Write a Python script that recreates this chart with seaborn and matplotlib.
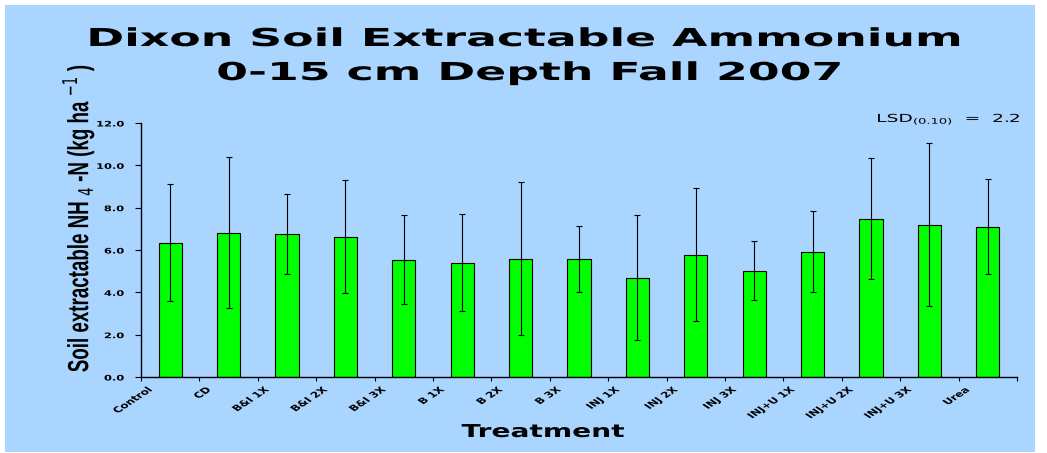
import numpy as np
import pandas as pd
import matplotlib
matplotlib.use("Agg")
import matplotlib.pyplot as plt
import matplotlib.transforms as mtransforms
from matplotlib.patches import Rectangle
from matplotlib.patheffects import AbstractPathEffect
import seaborn as sns

# ---- data -------------------------------------------------------------
treatments = ["Control", "CD", "B&I 1X", "B&I 2X", "B&I 3X", "B 1X", "B 2X",
              "B 3X", "INJ 1X", "INJ 2X", "INJ 3X", "INJ+U 1X", "INJ+U 2X",
              "INJ+U 3X", "Urea"]
nh4_mean = [6.35, 6.82, 6.77, 6.63, 5.53, 5.40, 5.59, 5.57,
            4.69, 5.78, 5.03, 5.92, 7.48, 7.20, 7.10]
nh4_sd = [2.75, 3.57, 1.89, 2.66, 2.10, 2.30, 3.60, 1.57,
          2.95, 3.13, 1.41, 1.92, 2.85, 3.84, 2.25]
y_ticks = [0.0, 2.0, 4.0, 6.0, 8.0, 10.0, 12.0]
lsd_010 = 2.2
title_lines = ["Dixon Soil Extractable Ammonium", "0-15 cm Depth Fall 2007"]

# ---- style ------------------------------------------------------------
sns.set_style("ticks")
plt.rcParams["font.family"] = ["DejaVu Sans"]
plt.rcParams["mathtext.fontset"] = "dejavusans"

BG = "#A9D5FE"
BAR = "#00FF00"


class StretchX(AbstractPathEffect):
    """Draw text widened horizontally about its left, centre or right edge."""

    def __init__(self, sx, anchor="center"):
        super().__init__()
        self.sx = sx
        self.anchor = anchor

    def draw_path(self, renderer, gc, tpath, affine, rgbFace=None):
        ext = tpath.get_extents(affine)
        if self.anchor == "left":
            cx = ext.x0
        elif self.anchor == "right":
            cx = ext.x1
        else:
            cx = 0.5 * (ext.x0 + ext.x1)
        t = affine + mtransforms.Affine2D().translate(-cx, 0).scale(self.sx, 1).translate(cx, 0)
        renderer.draw_path(gc, tpath, t, rgbFace)


W, H = 1047, 453
fig = plt.figure(figsize=(W / 100, H / 100), dpi=100)
fig.patch.set_facecolor("white")
fig.patches.append(Rectangle((5 / W, 1 - 452 / H), 1030 / W, 447 / H,
                             transform=fig.transFigure, facecolor=BG,
                             edgecolor="none", zorder=-10))

ax = fig.add_axes([141 / W, 1 - 377 / H, 876 / W, 254 / H])
ax.patch.set_visible(False)

df = pd.DataFrame({"Treatment": treatments, "NH4": nh4_mean, "SD": nh4_sd})
sns.barplot(data=df, x="Treatment", y="NH4", order=treatments, color=BAR,
            saturation=1, width=0.4, edgecolor="black", linewidth=0.8,
            errorbar=None, ax=ax, zorder=2)
ax.errorbar(x=np.arange(len(treatments)), y=df["NH4"], yerr=df["SD"],
            fmt="none", ecolor="black", elinewidth=0.8, capsize=2.5,
            capthick=0.8, zorder=3)

ax.set_xlim(-0.5, len(treatments) - 0.5)
ax.set_ylim(0, 12)
for s in ("top", "right"):
    ax.spines[s].set_visible(False)
for s in ("left", "bottom"):
    ax.spines[s].set_color("black")
    ax.spines[s].set_linewidth(1.0)

# y axis
ax.set_yticks(y_ticks)
ax.set_yticklabels([f"{v:.1f}" for v in y_ticks])
ax.tick_params(axis="y", direction="out", length=4.3, width=0.8, pad=8,
               colors="black", labelsize=5.5)
for lab in ax.get_yticklabels():
    lab.set_fontweight("bold")
    lab.set_path_effects([StretchX(1.5, "right")])

# x axis: ticks on the category boundaries, labels hung from each left boundary
bounds = np.arange(len(treatments) + 1) - 0.5
ax.set_xticks(bounds)
ax.set_xticklabels(treatments + [""], rotation=45, ha="right", va="top",
                   fontweight="bold", rotation_mode="default")
ax.tick_params(axis="x", direction="out", length=3, width=0.8, pad=3,
               colors="black", labelsize=5.8, labelrotation=45)
shift = mtransforms.ScaledTranslation(13 / 100, 0, fig.dpi_scale_trans)
for lab in ax.get_xticklabels():
    lab.set_transform(lab.get_transform() + shift)
    lab.set_path_effects([StretchX(1.5, "right")])
ax.set_xlabel("")
ax.set_ylabel("")

# titles and labels
t1 = fig.text(526 / W, 1 - 46 / H, title_lines[0], ha="center", va="baseline",
              fontsize=17.8, fontweight="bold", color="black")
t2 = fig.text(530 / W, 1 - 80 / H, title_lines[1], ha="center", va="baseline",
              fontsize=17.8, fontweight="bold", color="black")
for t in (t1, t2):
    t.set_path_effects([StretchX(1.85, "center")])

xl = fig.text(543 / W, 1 - 437 / H, "Treatment", ha="center", va="baseline",
              fontsize=12.8, fontweight="bold", color="black")
xl.set_path_effects([StretchX(1.58, "center")])

yl = fig.text(78 / W, 1 - 218 / H,
              "Soil extractable NH $_{4}$ -N (kg ha $^{-1}$ )",
              rotation=90, ha="center", va="center", fontsize=13.5,
              fontweight="bold", family=["Liberation Sans", "DejaVu Sans"],
              color="black")
yl.set_path_effects([StretchX(1.55, "center")])

lsd = fig.text(1021 / W, 1 - 122 / H,
               f"LSD$_{{(0.10)}}$  =  {lsd_010:.1f}", ha="right",
               va="baseline", fontsize=7.9, color="black")
lsd.set_path_effects([StretchX(1.7, "right")])

fig.savefig("out.png", dpi=100, facecolor="white")
